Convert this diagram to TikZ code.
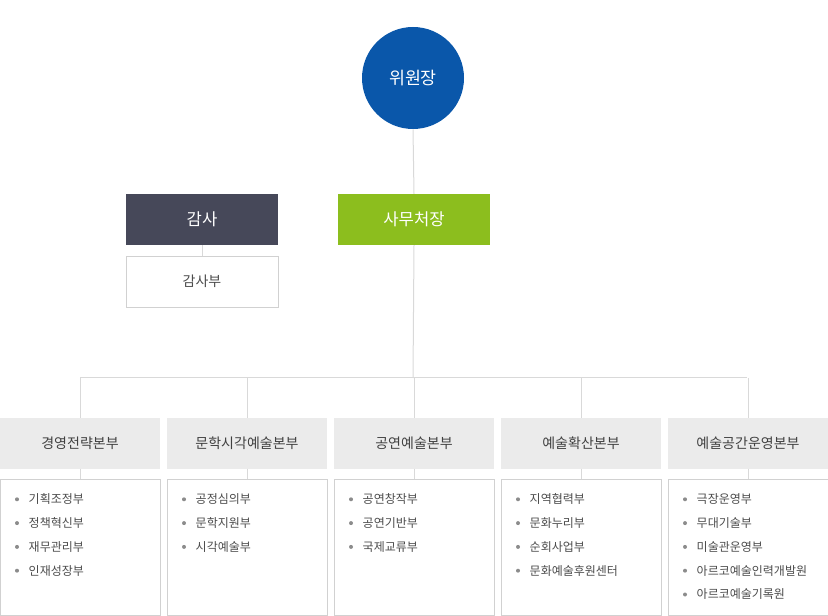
\documentclass[tikz,border=0pt]{standalone}
\usepackage{fontspec}
\setmainfont{Noto Sans CJK KR}
\begin{document}
\begin{tikzpicture}[x=0.75pt,y=-0.75pt,
  ln/.style={draw=black!15,line width=0.75pt},
  hd/.style={fill=black!8,draw=none,minimum width=120pt,minimum height=37.5pt,inner sep=0pt,font=\fontsize{10.5}{12}\selectfont,text=black!75},
  lb/.style={draw=black!18,fill=white,minimum width=120pt,minimum height=102pt,inner sep=0pt},
  it/.style={anchor=west,font=\fontsize{9}{11}\selectfont,text=black!70},
  bu/.style={circle,fill=black!45,inner sep=0pt,minimum size=3pt}]
\useasboundingbox (0,0) rectangle (828,616);
\definecolor{cblue}{HTML}{0A57AA}
\definecolor{cgreen}{HTML}{8CBE1E}
\definecolor{cdark}{HTML}{464859}
\node[circle,fill=cblue,minimum size=76.5pt,inner sep=0pt,text=white,font=\fontsize{13}{15}\selectfont] (top) at (413,78) {위원장};
\node[fill=cgreen,minimum width=114pt,minimum height=38pt,inner sep=0pt,text=white,font=\fontsize{12.5}{15}\selectfont] (sec) at (414,219.5) {사무처장};
\node[fill=cdark,minimum width=114pt,minimum height=38pt,inner sep=0pt,text=white,font=\fontsize{12.5}{15}\selectfont] (aud) at (202,219.5) {감사};
\node[draw=black!18,fill=white,minimum width=114pt,minimum height=38pt,inner sep=0pt,text=black!70,font=\fontsize{10.5}{12}\selectfont] (audb) at (202,281.5) {감사부};
\draw[ln] (aud.south) -- (audb.north);
\coordinate (bus) at (413,378);
\draw[ln] (top.south) -- (sec.north);
\draw[ln] (sec.south) -- (bus);
\draw[ln] (80,378) -- (747,378);
\foreach \i/\cx/\name in {1/80/경영전략본부,2/247/문학시각예술본부,3/414/공연예술본부,4/581/예술확산본부,5/748/예술공간운영본부}{
  \node[hd] (h\i) at (\cx,443.5) {\name};
  \node[lb] (l\i) at (\cx,547.5) {};
  \draw[ln] (\cx,378) -- (h\i.north);
  \draw[ln] (h\i.south) -- (l\i.north);
}
\foreach \i/\cx/\items in {1/80/{기획조정부,정책혁신부,재무관리부,인재성장부},2/247/{공정심의부,문학지원부,시각예술부},3/414/{공연창작부,공연기반부,국제교류부},4/581/{지역협력부,문화누리부,순회사업부,문화예술후원센터},5/748/{극장운영부,무대기술부,미술관운영부,아르코예술인력개발원,아르코예술기록원}}{
  \foreach \t [count=\k] in \items {
    \node[bu] (b\i\k) at (\cx-63,475.5+23.8*\k) {};
    \node[it] (t\i\k) at (\cx-56,475.5+23.8*\k) {\t};
  }
}
\end{tikzpicture}
\end{document}
